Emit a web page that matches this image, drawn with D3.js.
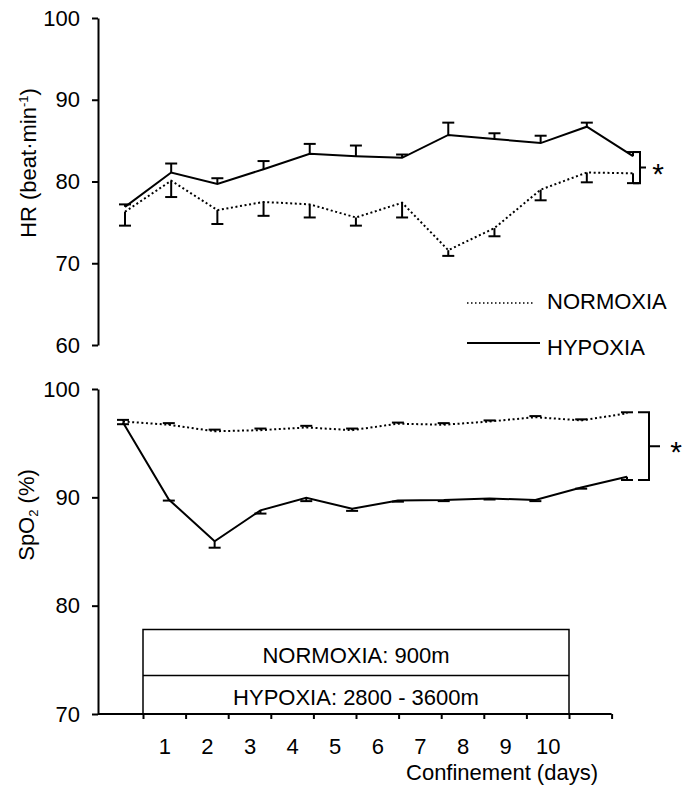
<!DOCTYPE html>
<html>
<head>
<meta charset="utf-8">
<script src="https://cdn.jsdelivr.net/npm/d3@7/dist/d3.min.js"></script>
<style>
  html, body { margin: 0; padding: 0; background: #fff; }
  svg { display: block; font-family: "Liberation Sans", Arial, sans-serif; }
  text { fill: #000; }
</style>
</head>
<body>
<svg id="chart" width="683" height="785"></svg>
<script>
// Measurement sessions: baseline, confinement days 1-10, and post
const sessions = ["Pre", "1", "2", "3", "4", "5", "6", "7", "8", "9", "10", "Post"];
const dayLabels = ["1", "2", "3", "4", "5", "6", "7", "8", "9", "10"];

// Heart rate (beat·min-1), mean and SE
const hrNormoxia   = [76.3, 80.1, 76.5, 77.5, 77.2, 75.6, 77.4, 71.6, 74.3, 79.0, 81.1, 81.0];
const hrNormoxiaSE = [1.7, 2.0, 1.7, 1.7, 1.6, 1.0, 1.8, 0.7, 1.0, 1.3, 1.2, 1.2];
const hrHypoxia    = [76.9, 81.1, 79.7, 81.5, 83.4, 83.1, 82.9, 85.7, 85.2, 84.7, 86.7, 83.1];
const hrHypoxiaSE  = [0.3, 1.1, 0.7, 1.0, 1.2, 1.3, 0.4, 1.5, 0.7, 0.9, 0.5, 0.5];

// Peripheral oxygen saturation (%), mean and SE
const spNormoxia   = [97.0, 96.7, 96.1, 96.2, 96.45, 96.2, 96.8, 96.7, 97.0, 97.4, 97.1, 97.75];
const spNormoxiaSE = [0.15, 0.15, 0.15, 0.15, 0.15, 0.15, 0.1, 0.15, 0.1, 0.1, 0.1, 0.1];
const spHypoxia    = [96.9, 89.8, 85.95, 88.8, 89.95, 88.95, 89.7, 89.75, 89.9, 89.75, 90.9, 91.9];
const spHypoxiaSE  = [0.15, 0.1, 0.6, 0.3, 0.3, 0.2, 0.1, 0.1, 0.1, 0.1, 0.1, 0.3];

const hrTicks = [60, 70, 80, 90, 100];
const spTicks = [70, 80, 90, 100];

const FONT = 22;
const svg = d3.select("#chart");

// ---------- scales ----------
const axisX = 98;
const yHR = d3.scaleLinear().domain([60, 100]).range([345, 18]);
const xTop = d3.scalePoint().domain(sessions).range([125, 633]);
const ySp = d3.scaleLinear().domain([70, 100]).range([714, 389]);
const xBot = d3.scalePoint().domain(sessions).range([123, 627]);
const dayAxis = d3.scaleLinear().domain([0, 12]).range([100.4, 611.6]);

function styleAxis(g) {
  g.selectAll("path.domain").attr("stroke", "#000").attr("stroke-width", 2);
  g.selectAll(".tick line").attr("stroke", "#000").attr("stroke-width", 2);
  g.selectAll(".tick text").attr("font-size", FONT).attr("fill", "#000")
    .attr("font-family", "'Liberation Sans', Arial, sans-serif");
}

// ---------- y axes ----------
svg.append("g")
  .attr("transform", `translate(${axisX},0)`)
  .call(d3.axisLeft(yHR).tickValues(hrTicks).tickSize(6).tickSizeOuter(0).tickPadding(12))
  .call(styleAxis);

svg.append("g")
  .attr("transform", `translate(${axisX},0)`)
  .call(d3.axisLeft(ySp).tickValues(spTicks).tickSize(6).tickSizeOuter(0).tickPadding(12))
  .call(styleAxis);

// ---------- x axis (bottom panel) ----------
const xAxisG = svg.append("g").attr("transform", `translate(0,${ySp(70)})`);
xAxisG.call(d3.axisBottom(dayAxis).tickValues(d3.range(1, 13)).tickSize(5).tickSizeOuter(0).tickFormat(""))
  .call(styleAxis);
xAxisG.select("path.domain").remove();
xAxisG.append("line")
  .attr("x1", axisX).attr("x2", dayAxis(12))
  .attr("y1", 0).attr("y2", 0)
  .attr("stroke", "#000").attr("stroke-width", 2);

const labelG = svg.append("g").attr("transform", `translate(0,${ySp(70)})`);
labelG.call(d3.axisBottom(dayAxis)
    .tickValues(dayLabels.map((d, i) => i + 1.5))
    .tickSize(0).tickPadding(24)
    .tickFormat((d, i) => dayLabels[i]))
  .call(styleAxis);
labelG.select("path.domain").remove();

svg.append("text")
  .attr("x", 598).attr("y", 780)
  .attr("text-anchor", "end")
  .attr("font-size", FONT)
  .text("Confinement (days)");

// ---------- axis titles ----------
const hrTitle = svg.append("text")
  .attr("transform", "translate(36,163) rotate(-90)")
  .attr("text-anchor", "middle")
  .attr("font-size", FONT);
hrTitle.append("tspan").text("HR (beat·min");
hrTitle.append("tspan").attr("font-size", 13).attr("dy", -8).text("-1");
hrTitle.append("tspan").attr("dy", 8).text(")");

const spTitle = svg.append("text")
  .attr("transform", "translate(34,515) rotate(-90)")
  .attr("text-anchor", "middle")
  .attr("font-size", FONT);
spTitle.append("tspan").text("SpO");
spTitle.append("tspan").attr("font-size", 13).attr("dy", 4).text("2");
spTitle.append("tspan").attr("dy", -4).text(" (%)");

// ---------- series drawing ----------
const CAP = 6;
function drawSeries(x, y, values, se, dir, dotted) {
  const pts = values.map((v, i) => [x(sessions[i]), y(v)]);
  const g = svg.append("g");
  // error bars: dir = +1 upward, -1 downward
  values.forEach((v, i) => {
    const cx = x(sessions[i]);
    const y0 = y(v), y1 = y(v + dir * se[i]);
    g.append("line").attr("x1", cx).attr("x2", cx).attr("y1", y0).attr("y2", y1)
      .attr("stroke", "#000").attr("stroke-width", 2);
    g.append("line").attr("x1", cx - CAP).attr("x2", cx + CAP).attr("y1", y1).attr("y2", y1)
      .attr("stroke", "#000").attr("stroke-width", 2);
  });
  g.append("path")
    .attr("d", d3.line()(pts))
    .attr("fill", "none")
    .attr("stroke", "#000")
    .attr("stroke-width", 2)
    .attr("stroke-dasharray", dotted ? "2,2.6" : null);
}

drawSeries(xTop, yHR, hrNormoxia, hrNormoxiaSE, -1, true);
drawSeries(xTop, yHR, hrHypoxia, hrHypoxiaSE, +1, false);
drawSeries(xBot, ySp, spNormoxia, spNormoxiaSE, +1, true);
drawSeries(xBot, ySp, spHypoxia, spHypoxiaSE, -1, false);

// ---------- significance brackets ----------
function bracket(xPos, yTop, yBottom, hook, tick, starX) {
  const mid = (yTop + yBottom) / 2;
  svg.append("path")
    .attr("d", `M${xPos - hook},${yTop}H${xPos}V${yBottom}H${xPos - hook}M${xPos},${mid}H${xPos + tick}`)
    .attr("fill", "none").attr("stroke", "#000").attr("stroke-width", 2);
  svg.append("text")
    .attr("x", starX).attr("y", mid + 16)
    .attr("text-anchor", "middle")
    .attr("font-size", 30)
    .text("*");
}
const last = sessions[sessions.length - 1];
bracket(xTop(last) + 7, yHR(hrHypoxia[11] + hrHypoxiaSE[11]), yHR(hrNormoxia[11] - hrNormoxiaSE[11]), 7, 6, 658);
bracket(xBot(last) + 22, ySp(spNormoxia[11] + spNormoxiaSE[11]), ySp(spHypoxia[11] - spHypoxiaSE[11]), 11, 11, 676);

// ---------- legend ----------
const legend = svg.append("g");
legend.append("line").attr("x1", 467).attr("x2", 534).attr("y1", 303).attr("y2", 303)
  .attr("stroke", "#000").attr("stroke-width", 1.5).attr("stroke-dasharray", "1.5,2.5");
legend.append("text").attr("x", 547).attr("y", 309).attr("font-size", FONT).text("NORMOXIA");
legend.append("line").attr("x1", 467).attr("x2", 540).attr("y1", 343).attr("y2", 343)
  .attr("stroke", "#000").attr("stroke-width", 2);
legend.append("text").attr("x", 547).attr("y", 355).attr("font-size", FONT).text("HYPOXIA");

// ---------- condition box ----------
const box = svg.append("g");
const bx0 = dayAxis(1), bx1 = dayAxis(11);
box.append("rect")
  .attr("x", bx0).attr("y", ySp(77.8))
  .attr("width", bx1 - bx0).attr("height", ySp(70) - ySp(77.8))
  .attr("fill", "none").attr("stroke", "#000").attr("stroke-width", 1.5);
box.append("line")
  .attr("x1", bx0).attr("x2", bx1).attr("y1", ySp(73.55)).attr("y2", ySp(73.55))
  .attr("stroke", "#000").attr("stroke-width", 1.5);
box.append("text").attr("x", (bx0 + bx1) / 2).attr("y", 663)
  .attr("text-anchor", "middle").attr("font-size", FONT).text("NORMOXIA: 900m");
box.append("text").attr("x", (bx0 + bx1) / 2).attr("y", 705)
  .attr("text-anchor", "middle").attr("font-size", FONT).text("HYPOXIA: 2800 - 3600m");
</script>
</body>
</html>
